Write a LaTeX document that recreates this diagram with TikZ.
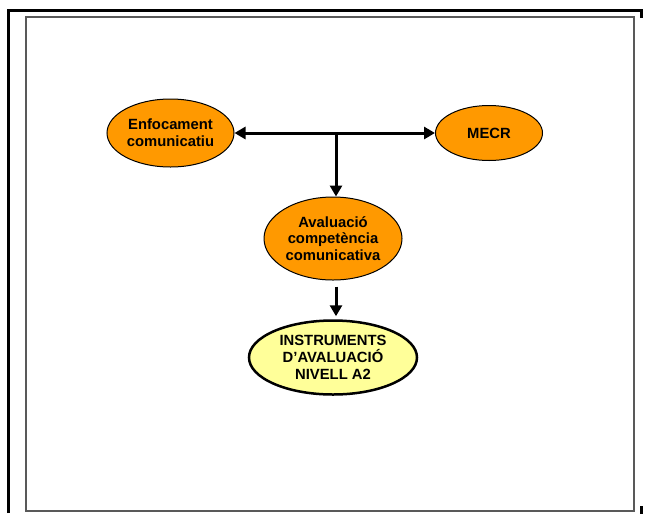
\documentclass[tikz,border=0pt]{standalone}
\usepackage{fontspec}
\setmainfont{Liberation Sans}
\usepackage{xcolor}
\usepackage{tikz}
\usetikzlibrary{shapes}
\usetikzlibrary{positioning}
\usetikzlibrary{shapes.geometric}
\usetikzlibrary{arrows.meta}

\definecolor{ovalorange}{HTML}{FF9900}
\definecolor{ovalyellow}{HTML}{FFFF99}

\begin{document}
\begin{tikzpicture}[
	x=1pt,y=-1pt,
	font=\bfseries\fontsize{14.8}{16.8}\selectfont
]
\tikzset{
    ovalnode/.style = {ellipse, draw=black, line width=1pt, align=center, fill=ovalorange, inner sep=0pt},
		goalnode/.style = {ellipse, draw=black, line width=2.5pt, align=center, fill=ovalyellow, inner sep=0pt},
		linkstyle/.style = {line width=3pt, -{Triangle[length=11pt,width=12pt]}}
}
\useasboundingbox (0,0) rectangle (645,515);
% page frame
\draw[line width=3pt] (8,513) -- (8,10.5) -- (641.5,10.5) -- (641.5,18);
\draw[line width=3pt] (641.5,506) -- (641.5,514);
\draw[gray!70!black, line width=1.5pt] (26,17) rectangle (634,511);
% ovals
\node[ovalnode, minimum width=127pt, minimum height=68pt] (enf) at (170.5,133) {Enfocament\\comunicatiu};
\node[ovalnode, minimum width=107pt, minimum height=55pt] (mecr) at (489,133) {MECR};
\node[ovalnode, minimum width=138pt, minimum height=83pt] (aval) at (333,238.5) {Avaluació\\competència\\comunicativa};
\node[goalnode, minimum width=168pt, minimum height=74pt] (instr) at (333,357.5) {INSTRUMENTS\\D’AVALUACIÓ\\NIVELL A2};
% links
\coordinate (join) at (336,133);
\draw[linkstyle, {Triangle[length=11pt,width=12pt]}-{Triangle[length=11pt,width=12pt]}] (enf.east) -- (mecr.west);
\draw[linkstyle] (join) -- (join |- aval.north);
\draw[linkstyle, shorten <=6pt, shorten >=3pt] (aval.south -| join) -- (instr.north -| join);
\end{tikzpicture}
\end{document}
